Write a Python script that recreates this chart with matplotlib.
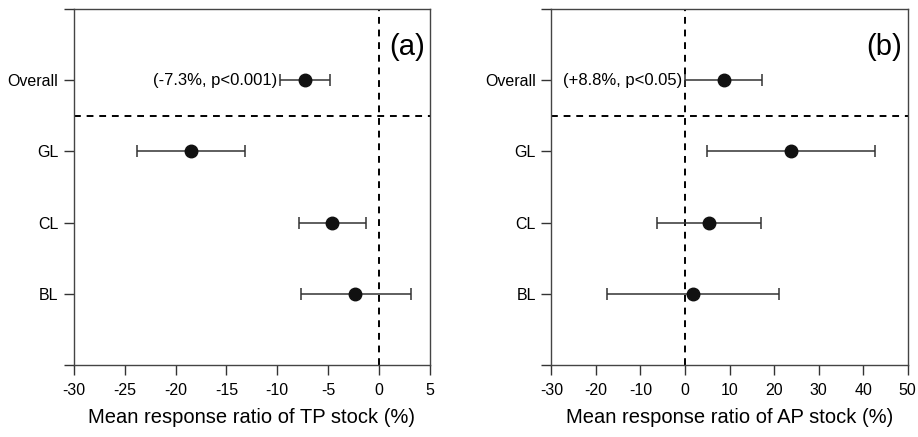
import matplotlib
matplotlib.use("Agg")
import matplotlib.pyplot as plt

plt.rcParams['font.family'] = ['Liberation Sans', 'DejaVu Sans']

groups = ['BL', 'CL', 'GL', 'Overall']
ypos = [1, 2, 3, 4]

# panel (a): TP stock
tp_mean = [-2.4, -4.6, -18.5, -7.3]
tp_low = [-7.7, -7.9, -23.8, -9.7]
tp_high = [3.1, -1.3, -13.2, -4.8]

# panel (b): AP stock
ap_mean = [1.8, 5.4, 23.7, 8.8]
ap_low = [-17.5, -6.2, 4.9, 0.1]
ap_high = [21.1, 17.1, 42.7, 17.4]

tp_ticks = [-30, -25, -20, -15, -10, -5, 0, 5]
ap_ticks = [-30, -20, -10, 0, 10, 20, 30, 40, 50]

fig = plt.figure(figsize=(9.18, 4.37), dpi=100)
ax1 = fig.add_axes([0.0803, 0.165, 0.3881, 0.814])
ax2 = fig.add_axes([0.6006, 0.165, 0.3882, 0.814])

panels = [
    (ax1, tp_mean, tp_low, tp_high, tp_ticks, 'Mean response ratio of TP stock (%)',
     '(a)', '(-7.3%, p<0.001)'),
    (ax2, ap_mean, ap_low, ap_high, ap_ticks, 'Mean response ratio of AP stock (%)',
     '(b)', '(+8.8%, p<0.05)'),
]

for ax, mean, low, high, ticks, xlabel, tag, note in panels:
    err = [[m - l for m, l in zip(mean, low)], [h - m for m, h in zip(mean, high)]]
    ax.axvline(0, color='black', ls=(0, (3.5, 3)), lw=1.4, zorder=1)
    ax.axhline(3.5, color='black', ls=(0, (3.5, 3)), lw=1.4, zorder=1)
    ax.errorbar(mean, ypos, xerr=err, fmt='o', color='#111111', ecolor='#333333',
                elinewidth=1.1, capsize=4, capthick=1.1, markersize=9, zorder=3)
    ax.set_xlim(ticks[0], ticks[-1])
    ax.set_ylim(0, 5)
    ax.set_xticks(ticks)
    ax.set_xticklabels([str(t) for t in ticks], fontsize=11.5)
    ax.set_yticks([0, 1, 2, 3, 4, 5])
    ax.set_yticklabels([''] + groups + [''], fontsize=11.5)
    ax.tick_params(direction='out', length=7, width=1, color='#333333')
    ax.tick_params(axis='x', pad=6)
    ax.tick_params(axis='y', pad=4)
    for s in ax.spines.values():
        s.set_color('#444444')
        s.set_linewidth(1)
    ax.set_xlabel(xlabel, fontsize=14.5, labelpad=7)
    ax.text(0.985, 0.895, tag, transform=ax.transAxes, ha='right', va='center', fontsize=21)
    ax.text(low[3] - (ticks[-1] - ticks[0]) * 0.008, 4, note, ha='right', va='center',
            fontsize=12)

fig.savefig('out.png', dpi=100)
